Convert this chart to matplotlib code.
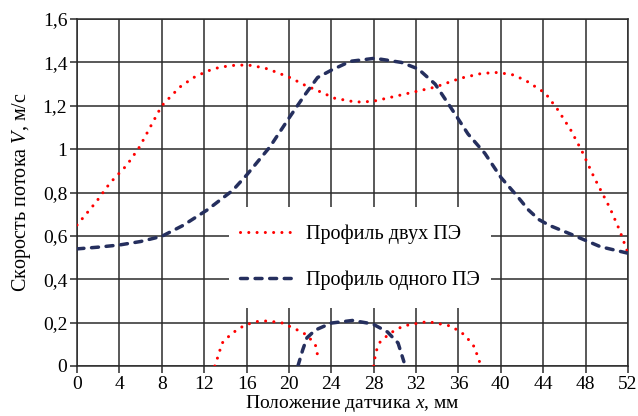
import matplotlib
matplotlib.use("Agg")
import matplotlib.pyplot as plt
from matplotlib.patches import Rectangle

plt.rcParams['font.family'] = ['Liberation Serif', 'DejaVu Serif']
plt.rcParams['mathtext.fontset'] = 'custom'
plt.rcParams['mathtext.rm'] = 'Liberation Serif'
plt.rcParams['mathtext.it'] = 'Liberation Serif:italic'

# профиль двух ПЭ (красный пунктир)
x_two = [0, 1.8, 3.1, 4.7, 5.9, 7.5, 8.0, 9.7, 11, 12.3, 13.5, 15.1, 16.5, 18, 20.1, 21.5,
         22.7, 24.3, 26.3, 27.9, 30.6, 33.8, 36.2, 38, 39.4, 41, 42.3, 44.2, 45.4, 46.6,
         47.7, 48.8, 50.3, 51.2, 52]
y_two = [0.65, 0.756, 0.843, 0.926, 1.01, 1.155, 1.2, 1.286, 1.33, 1.36, 1.378, 1.388, 1.386,
         1.37, 1.33, 1.295, 1.27, 1.235, 1.217, 1.22, 1.25, 1.286, 1.327, 1.347, 1.354, 1.345,
         1.318, 1.258, 1.18, 1.088, 0.986, 0.87, 0.728, 0.627, 0.52]

# профиль одного ПЭ (синий штрих)
x_one = [0, 2, 4, 6, 8, 10, 12.3, 14.7, 16, 18.2, 20.1, 21.5, 22.7, 24, 25.8, 28.1, 30.6,
         32.2, 33.8, 35.3, 36.9, 38.5, 40, 41.6, 42.6, 43.6, 44.6, 46.8, 49.4, 52]
y_one = [0.54, 0.548, 0.558, 0.574, 0.598, 0.648, 0.72, 0.81, 0.88, 1.01, 1.15, 1.25, 1.33,
         1.364, 1.405, 1.419, 1.40, 1.37, 1.30, 1.19, 1.07, 0.98, 0.87, 0.78, 0.72, 0.675,
         0.648, 0.604, 0.55, 0.52]

# малые профили внизу
x_r1 = [13.0, 13.2, 13.7, 14.6, 15.85, 17, 18, 19.4, 20.8, 21.7, 22.5, 22.8]
y_r1 = [0, 0.028, 0.106, 0.15, 0.189, 0.205, 0.208, 0.198, 0.166, 0.143, 0.097, 0.028]
x_b1 = [20.85, 21.3, 21.7, 22.5, 24.0, 26.0, 27.9, 29.3, 30.3, 30.85]
y_b1 = [0, 0.074, 0.13, 0.166, 0.198, 0.21, 0.194, 0.157, 0.106, 0.02]
x_r2 = [28.0, 28.2, 28.6, 29.5, 30.8, 33.1, 35.3, 36.6, 37.5, 38.0]
y_r2 = [0, 0.065, 0.11, 0.15, 0.185, 0.205, 0.184, 0.143, 0.088, 0.018]

xticks = list(range(0, 53, 4))
yticks = [0, 0.2, 0.4, 0.6, 0.8, 1.0, 1.2, 1.4, 1.6]
ytick_labels = ['0', '0,2', '0,4', '0,6', '0,8', '1', '1,2', '1,4', '1,6']

red = '#ff0000'
navy = '#252f5e'
grid_c = '#2b2b2b'

fig = plt.figure(figsize=(6.38, 4.16), dpi=100)
ax = fig.add_axes([0.1207, 0.1202, 0.8636, 0.8341])

dot = dict(color=red, lw=2.2, linestyle=(0, (0.01, 2.7)), dash_capstyle='round', zorder=3)
dash = dict(color=navy, lw=2.5, linestyle=(0, (2.0, 2.2)), dash_capstyle='round', zorder=3)

ax.plot(x_two, y_two, label='Профиль двух ПЭ', **dot)
ax.plot(x_one, y_one, label='Профиль одного ПЭ', **dash)
ax.plot(x_r1, y_r1, **dot)
ax.plot(x_b1, y_b1, **dash)
ax.plot(x_r2, y_r2, **dot)

# белая подложка под легенду
ax.add_patch(Rectangle((14.3, 0.267), 24.8, 0.466, facecolor='white', edgecolor='none', zorder=1))

ax.set_xlim(0, 52)
ax.set_ylim(0, 1.6)
ax.set_xticks(xticks)
ax.set_yticks(yticks)
ax.set_yticklabels(ytick_labels)
ax.set_axisbelow(True)
ax.grid(True, color=grid_c, lw=1.1)
for s in ax.spines.values():
    s.set_color(grid_c)
    s.set_linewidth(1.1)
ax.tick_params(direction='out', length=5, width=1.1, color=grid_c, labelsize=14, pad=2)

ax.set_ylabel('Скорость потока $V$, м/с', fontsize=14.5, labelpad=7)
ax.set_xlabel('Положение датчика $x$, мм', fontsize=14, labelpad=0)

leg = ax.legend(loc='center left', bbox_to_anchor=(0.296, 0.314), frameon=False, fontsize=14.5,
                handlelength=2.6, handletextpad=0.65, labelspacing=1.3, borderpad=0,
                borderaxespad=0)

fig.savefig('out.png', dpi=100)
